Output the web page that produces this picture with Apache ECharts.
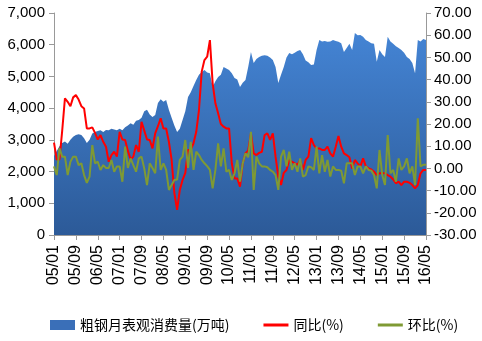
<!DOCTYPE html>
<html><head><meta charset="utf-8">
<script src="https://cdn.jsdelivr.net/npm/echarts@6/dist/echarts.min.js"></script>
<style>html,body{margin:0;padding:0;background:#fff}#c{width:482px;height:341px}</style>
</head><body><div id="c"></div>
<script>
// months 05/01 .. 16/05
const categories = [];
for (let y = 5; y <= 16; y++) for (let m = 1; m <= 12; m++) {
  if (y === 16 && m > 5) break;
  categories.push(String(y).padStart(2,'0') + '/' + String(m).padStart(2,'0'));
}
const consumption = [
2490,2650,2800,2900,2950,2880,3000,3100,3150,3180,3150,3050,
2900,3000,3200,3250,3280,3300,3250,3310,3300,3350,3330,3300,
3350,3300,3400,3450,3520,3480,3600,3630,3700,3900,3950,3800,
3720,3780,4160,4280,4200,4260,3950,3700,3450,3250,3350,3630,
3900,4350,4500,4700,4890,5050,5140,5200,5120,5100,4670,4850,
4980,5050,5300,5250,5200,5100,4950,4900,4670,4800,4890,5300,
5770,5420,5550,5610,5650,5670,5650,5600,5520,5300,4790,5050,
5300,5600,5740,5700,5750,5800,5830,5700,5500,5450,5360,5380,
5830,6150,6100,6120,6090,6100,6150,6120,6090,6050,5770,5900,
6030,5830,6370,6300,6310,6250,6150,6100,6050,6030,5460,5830,
5700,5610,6250,6100,6030,5950,5900,5830,5750,5610,5550,5420,
5100,6150,6100,6180,6150];
const yoy = [
11.6,4,4,17,31.6,30,28,32,33,31,28,27,
18,18,18.5,16,13,15,12,9.8,3,6,7.5,5.3,
16.5,13,12.8,8,4,5.3,10.5,7.5,21,17,13,12.8,
9,15.8,19,22.6,18,18,12,3.8,-11,-18.7,-9.7,-5.2,
-2,8.3,8.3,11.3,16.5,26.3,43.6,48.8,50.3,57.8,38.3,29.3,
24.8,20,18.8,18,18,2.3,-4.5,-4.5,-8.2,2.3,6.8,8,
15.8,6.8,6,7,7.5,15,15.8,12.8,15.8,5.3,-3.7,-7.5,
-2,-0.7,3.8,3,2.3,1.6,3.8,-0.7,3.8,5.3,13.6,10.5,
9,9,8.3,8.3,9.8,6.8,5.3,9.8,14.6,9.8,6.8,6,
5,0,3.8,2.3,0.9,4.5,0.9,0,-0.5,-1.5,-3,-2.2,
-2.2,-2.2,-3,-3.7,-5,-6.7,-6,-7.5,-6,-6,-6.5,-7.5,
-9,-7.5,-2.2,-0.7,-0.7];
const mom = [
0.9,-3,9,5.3,5.3,-3,3,5.3,5.3,1.5,2.3,-3,
-6.5,-3.7,10.5,2.3,3,-0.7,1.5,0.2,0.2,3.8,-1.5,0.9,
0.9,-6,9.8,0.2,4.5,1.5,-1.5,4.5,5.3,0,-7.5,2.3,
0.2,-2.2,14.3,-0.7,2.3,-0.7,-9.7,-7.5,-5.2,-5,3.8,5.3,
12.8,0.2,12,-0.7,7.5,6,3.8,2.3,1,-0.7,-9,-0.7,
11.3,0.9,9,-1.5,-0.7,-5.2,-2.2,3.8,-6,2.3,6.8,5,
16.5,-9.7,5.3,2.3,0.9,0.9,0.5,-0.7,-1.5,-3,-9.7,5.3,
8.3,0.9,7.5,-0.7,2.3,-1.5,4.5,-3.7,-3,0.9,0.5,-0.7,
9.8,-2.2,6,-1.5,3.8,-3.7,0.9,-0.7,-0.7,-1,-6.7,2.3,
2.3,2.3,-3,0.9,0.9,-2.2,0.9,-0.7,-1,-3,-9,8.3,
-3,-7.5,15,-2.2,-0.7,-6,4.5,-0.7,0.9,4.5,-2.2,0.9,
-7.5,22.6,0.9,1.6,1.6];
const leftTicks = {min:0, max:7000, interval:1000};
const rightTicks = {min:-30, max:70, interval:10};
const names = ['粗钢月表观消费量(万吨)','同比(%)','环比(%)'];

const font = '"Liberation Sans", Arial, sans-serif';
const lineIcon = 'path://M0,0H25V3H0Z';
const chart = echarts.init(document.getElementById('c'));
chart.setOption({
  animation:false,
  grid:{left:54,right:56,top:13,bottom:106},
  legend:{
    left:45, top:313, itemGap:34, itemWidth:25, itemHeight:10,
    textStyle:{fontFamily:'"Noto Sans CJK SC", sans-serif', fontSize:14, color:'#000'},
    data:[{name:names[0], icon:'rect'},{name:names[1], icon:lineIcon},{name:names[2], icon:lineIcon}]
  },
  xAxis:{
    type:'category', data:categories, boundaryGap:false,
    axisLine:{lineStyle:{color:'#999'}},
    axisTick:{interval:7, length:5, lineStyle:{color:'#999'}},
    axisLabel:{interval:7, rotate:90, margin:10, color:'#000', fontSize:16, fontFamily:font}
  },
  yAxis:[
    {type:'value', min:leftTicks.min, max:leftTicks.max, interval:leftTicks.interval,
     splitLine:{show:false},
     axisLine:{show:true, lineStyle:{color:'#999'}},
     axisTick:{show:true, length:5, lineStyle:{color:'#999'}},
     axisLabel:{color:'#000', fontSize:15, fontFamily:font, margin:9}},
    {type:'value', min:rightTicks.min, max:rightTicks.max, interval:rightTicks.interval,
     splitLine:{show:false},
     axisLine:{show:true, lineStyle:{color:'#999'}},
     axisTick:{show:true, length:5, lineStyle:{color:'#999'}},
     axisLabel:{color:'#000', fontSize:15, fontFamily:font, margin:8,
       formatter:v=>v.toFixed(2)}}
  ],
  series:[
    {name:names[0], type:'line', data:consumption, yAxisIndex:0, symbol:'none',
     lineStyle:{width:0},
     itemStyle:{color:'#3a6fb8'},
     areaStyle:{opacity:1, color:new echarts.graphic.LinearGradient(0,0,0,1,[
       {offset:0,color:'#4484d4'},{offset:1,color:'#2c5a98'}])}},
    {name:names[1], type:'line', data:yoy, yAxisIndex:1, symbol:'none',
     lineStyle:{width:2, color:'#ff0000'}, itemStyle:{color:'#ff0000'}},
    {name:names[2], type:'line', data:mom, yAxisIndex:1, symbol:'none',
     lineStyle:{width:2, color:'#7f9a34'}, itemStyle:{color:'#7f9a34'}}
  ]
});
</script></body></html>
